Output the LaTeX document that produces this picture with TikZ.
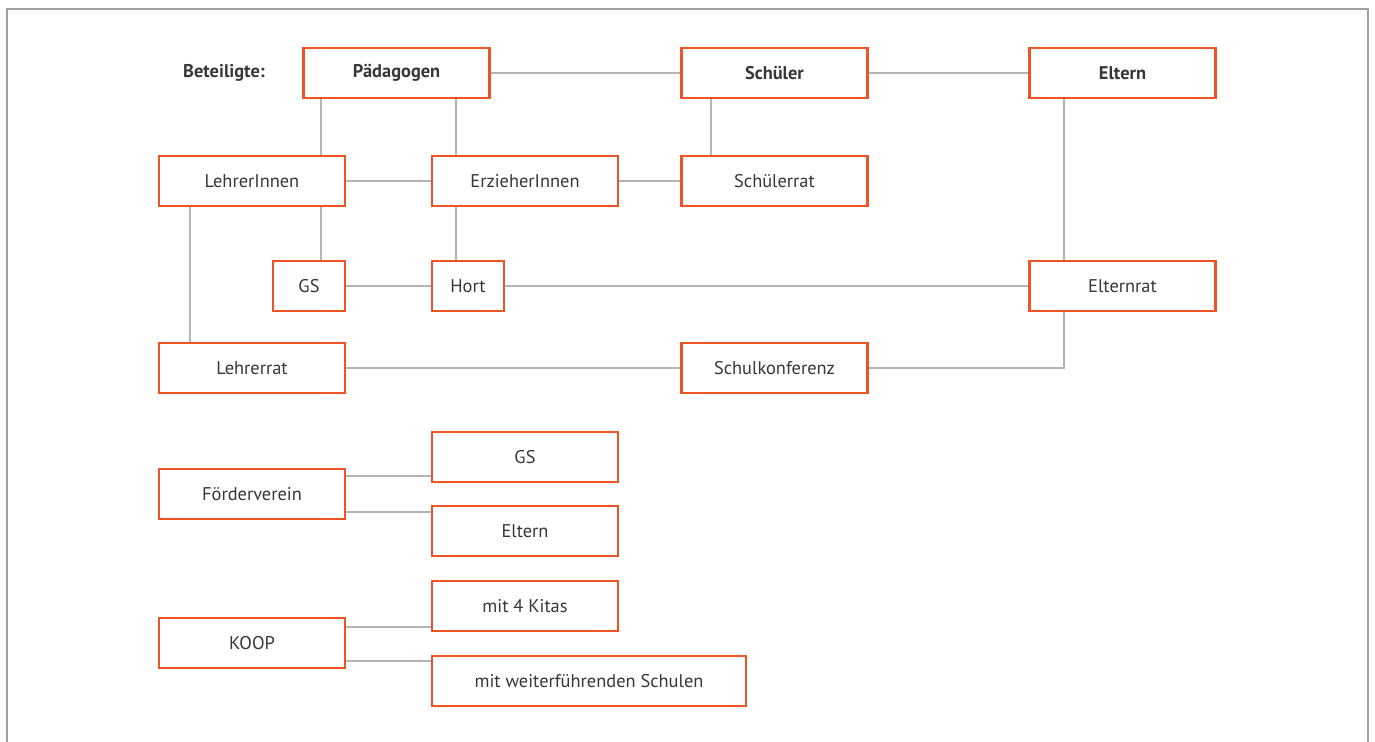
\documentclass[tikz,border=0pt]{standalone}
\usepackage{fontspec}
\setmainfont{PT Sans}
\usepackage{tikz}

\definecolor{boxorange}{RGB}{238,84,36}
\definecolor{linegray}{RGB}{180,180,180}
\definecolor{framegray}{RGB}{160,160,160}
\definecolor{textgray}{RGB}{55,55,55}

\begin{document}
\begin{tikzpicture}[x=0.5pt,y=-0.5pt,
    every node/.style={font=\fontsize{9.2}{11}\selectfont, text=textgray},
    box/.style={draw=boxorange, line width=1.4pt, fill=white,
                minimum width=93pt, minimum height=25pt, inner sep=0pt},
    head/.style={box, font=\fontsize{9.2}{11}\selectfont\bfseries},
    small/.style={box, minimum width=36pt},
    link/.style={draw=linegray, line width=1pt}]
    \useasboundingbox (0,0) rectangle (1375,742);
    \draw[framegray, line width=1pt] (6.5,742) -- (6.5,9.5) -- (1367.5,9.5) -- (1367.5,742);

    \node[font=\fontsize{9.2}{11}\selectfont\bfseries] (beteiligte) at (224, 73) {Beteiligte:};
    \node[head] (paed)     at ( 396.5,  73) {Pädagogen};
    \node[head] (schueler) at ( 774.5,  73) {Schüler};
    \node[head] (eltern)   at (1122.5,  73) {Eltern};
    \node[box]  (lehrer)   at ( 252,   181) {LehrerInnen};
    \node[box]  (erzieher) at ( 525,   181) {ErzieherInnen};
    \node[box]  (srat)     at ( 774.5, 181) {Schülerrat};
    \node[small] (gs)      at ( 309,   286) {GS};
    \node[small] (hort)    at ( 468,   286) {Hort};
    \node[box]  (erat)     at (1122.5, 286) {Elternrat};
    \node[box]  (lrat)     at ( 252,   368) {Lehrerrat};
    \node[box]  (konf)     at ( 774.5, 368) {Schulkonferenz};
    \node[box]  (foerder)  at ( 252,   494) {Förderverein};
    \node[box]  (gsb)      at ( 525,   457) {GS};
    \node[box]  (elternb)  at ( 525,   531) {Eltern};
    \node[box]  (koop)     at ( 252,   643) {KOOP};
    \node[box]  (kitas)    at ( 525,   606) {mit 4 Kitas};
    \node[box, minimum width=157pt] (schulen) at (589, 681) {mit weiterführenden Schulen};

    \draw[link] (paed) -- (schueler);
    \draw[link] (schueler) -- (eltern);
    \draw[link] ([xshift=-37.75pt]paed.south) -- ([xshift=-37.75pt]paed.south |- lehrer.north);
    \draw[link] ([xshift=29.75pt]paed.south) -- ([xshift=29.75pt]paed.south |- erzieher.north);
    \draw[link] ([xshift=-31.75pt]schueler.south) -- ([xshift=-31.75pt]schueler.south |- srat.north);
    \draw[link] ([xshift=-29.25pt]eltern.south) -- ([xshift=-29.25pt]eltern.south |- erat.north);
    \draw[link] (lehrer) -- (erzieher);
    \draw[link] (erzieher) -- (srat);
    \draw[link] ([xshift=34.5pt]lehrer.south) -- ([xshift=34.5pt]lehrer.south |- gs.north);
    \draw[link] ([xshift=-31pt]lehrer.south) -- ([xshift=-31pt]lehrer.south |- lrat.north);
    \draw[link] ([xshift=-34.5pt]erzieher.south) -- ([xshift=-34.5pt]erzieher.south |- hort.north);
    \draw[link] (gs) -- (hort);
    \draw[link] (hort) -- (erat);
    \draw[link] (lrat) -- (konf);
    \draw[link] (konf.east) -| ([xshift=-29.25pt]erat.south);
    \draw[link] ([yshift=9pt]foerder.east) -- ([yshift=9pt]foerder.east -| gsb.west);
    \draw[link] ([yshift=-9pt]foerder.east) -- ([yshift=-9pt]foerder.east -| elternb.west);
    \draw[link] ([yshift=8pt]koop.east) -- ([yshift=8pt]koop.east -| kitas.west);
    \draw[link] ([yshift=-9pt]koop.east) -- ([yshift=-9pt]koop.east -| schulen.west);
\end{tikzpicture}
\end{document}
